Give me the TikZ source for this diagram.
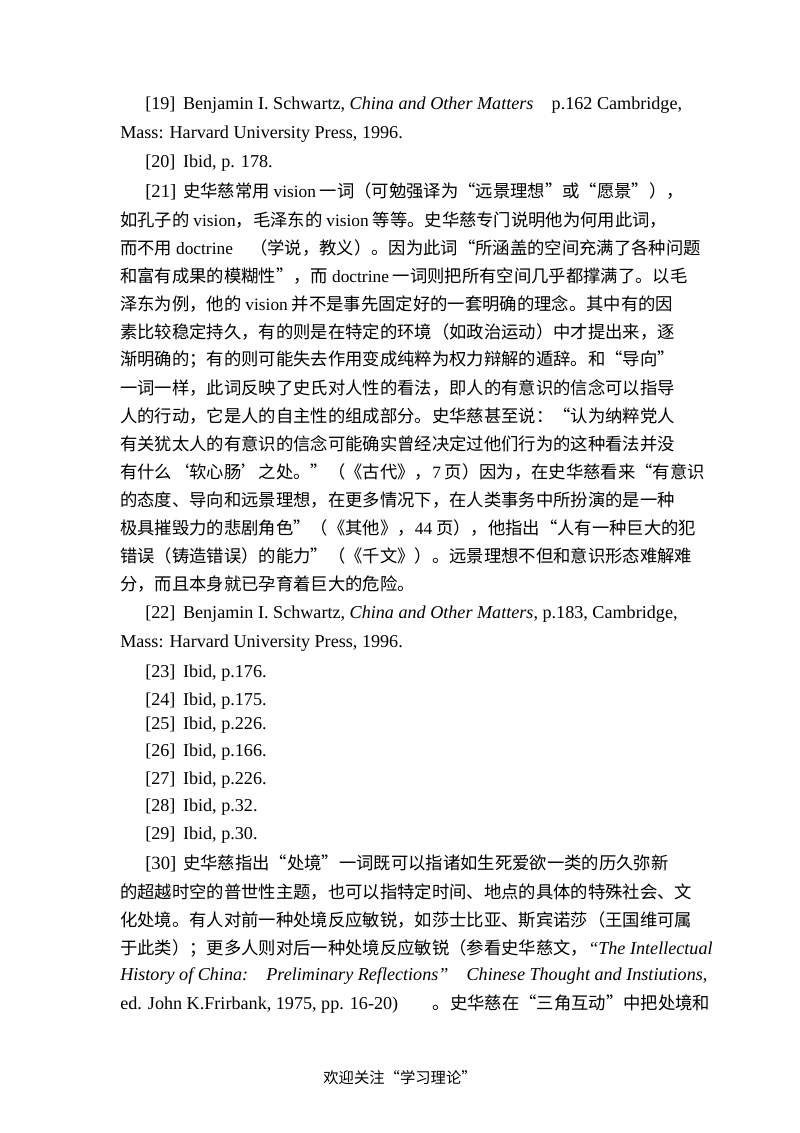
\documentclass[tikz,border=0pt]{standalone}
\usepackage{fontspec}
\setmainfont{Noto Sans CJK SC}
\newfontfamily\lat{Liberation Serif}
\begin{document}
\begin{tikzpicture}[x=0.75pt,y=-0.75pt,
  ln/.style={anchor=west,inner sep=0pt,font=\fontsize{13}{16}\selectfont},
  la/.style={anchor=west,inner sep=0pt,font=\lat\fontsize{13.6}{16}\selectfont}]
\useasboundingbox (0,0) rectangle (800,1133);
\fill[white] (0,0) rectangle (800,1133);
\node[la] (l1) at (145,105) {[19]\, Benjamin I. Schwartz, \textit{China and Other Matters}\quad p.162 Cambridge,};
\node[la] (l2) at (120,134) {Mass: Harvard University Press, 1996.};
\node[la] (l3) at (145,163) {[20]\, Ibid, p. 178.};
\node[ln] (l4) at (145,191) {{\lat\fontsize{14}{16}\selectfont[21]}\, 史华慈常用 {\lat vision} 一词（可勉强译为“远景理想”或“愿景”），};
\node[ln] (l5) at (120,220) {如孔子的 {\lat vision}，毛泽东的 {\lat vision} 等等。史华慈专门说明他为何用此词，};
\node[ln] (l6) at (120,248) {而不用 {\lat doctrine}\quad（学说，教义）。因为此词“所涵盖的空间充满了各种问题};
\node[ln] (l7) at (120,276) {和富有成果的模糊性”，而 {\lat doctrine} 一词则把所有空间几乎都撑满了。以毛};
\node[ln] (l8) at (120,304) {泽东为例，他的 {\lat vision} 并不是事先固定好的一套明确的理念。其中有的因};
\node[ln] (l9) at (120,332) {素比较稳定持久，有的则是在特定的环境（如政治运动）中才提出来，逐};
\node[ln] (l10) at (120,360) {渐明确的；有的则可能失去作用变成纯粹为权力辩解的遁辞。和“导向”};
\node[ln] (l11) at (120,388) {一词一样，此词反映了史氏对人性的看法，即人的有意识的信念可以指导};
\node[ln] (l12) at (120,416) {人的行动，它是人的自主性的组成部分。史华慈甚至说：“认为纳粹党人};
\node[ln] (l13) at (120,444) {有关犹太人的有意识的信念可能确实曾经决定过他们行为的这种看法并没};
\node[ln] (l14) at (120,472) {有什么‘软心肠’之处。”（《古代》，{\lat 7} 页）因为，在史华慈看来“有意识};
\node[ln] (l15) at (120,500) {的态度、导向和远景理想，在更多情况下，在人类事务中所扮演的是一种};
\node[ln] (l16) at (120,528) {极具摧毁力的悲剧角色”（《其他》，{\lat 44} 页），他指出“人有一种巨大的犯};
\node[ln] (l17) at (120,556) {错误（铸造错误）的能力”（《千文》）。远景理想不但和意识形态难解难};
\node[ln] (l18) at (120,584) {分，而且本身就已孕育着巨大的危险。};
\node[la] (l19) at (145,614) {[22]\, Benjamin I. Schwartz, \textit{China and Other Matters}, p.183, Cambridge,};
\node[la] (l20) at (120,643) {Mass: Harvard University Press, 1996.};
\node[la] (l21) at (145,673) {[23]\, Ibid, p.176.};
\node[la] (l22) at (145,701) {[24]\, Ibid, p.175.};
\node[la] (l23) at (145,725) {[25]\, Ibid, p.226.};
\node[la] (l24) at (145,752) {[26]\, Ibid, p.166.};
\node[la] (l25) at (145,780) {[27]\, Ibid, p.226.};
\node[la] (l26) at (145,807) {[28]\, Ibid, p.32.};
\node[la] (l27) at (145,835) {[29]\, Ibid, p.30.};
\node[ln] (l28) at (145,863) {{\lat\fontsize{14}{16}\selectfont[30]}\, 史华慈指出“处境”一词既可以指诸如生死爱欲一类的历久弥新};
\node[ln] (l29) at (120,892) {的超越时空的普世性主题，也可以指特定时间、地点的具体的特殊社会、文};
\node[ln] (l30) at (120,920) {化处境。有人对前一种处境反应敏锐，如莎士比亚、斯宾诺莎（王国维可属};
\node[ln] (l31) at (120,948) {于此类）；更多人则对后一种处境反应敏锐（参看史华慈文，{\lat\itshape\fontsize{13.6}{16}\selectfont “The Intellectual}};
\node[la] (l32) at (120,976) {\textit{History of China:\quad Preliminary Reflections”}\quad \textit{Chinese Thought and Instiutions},};
\node[ln] (l33) at (120,1004) {{\lat\fontsize{13.6}{16}\selectfont ed. John K.Frirbank, 1975, pp. 16-20)}\qquad 。史华慈在“三角互动”中把处境和};
\node[anchor=center,inner sep=0pt,font=\fontsize{11.5}{14}\selectfont] (ft) at (400,1078) {欢迎关注“学习理论”};
\end{tikzpicture}
\end{document}
